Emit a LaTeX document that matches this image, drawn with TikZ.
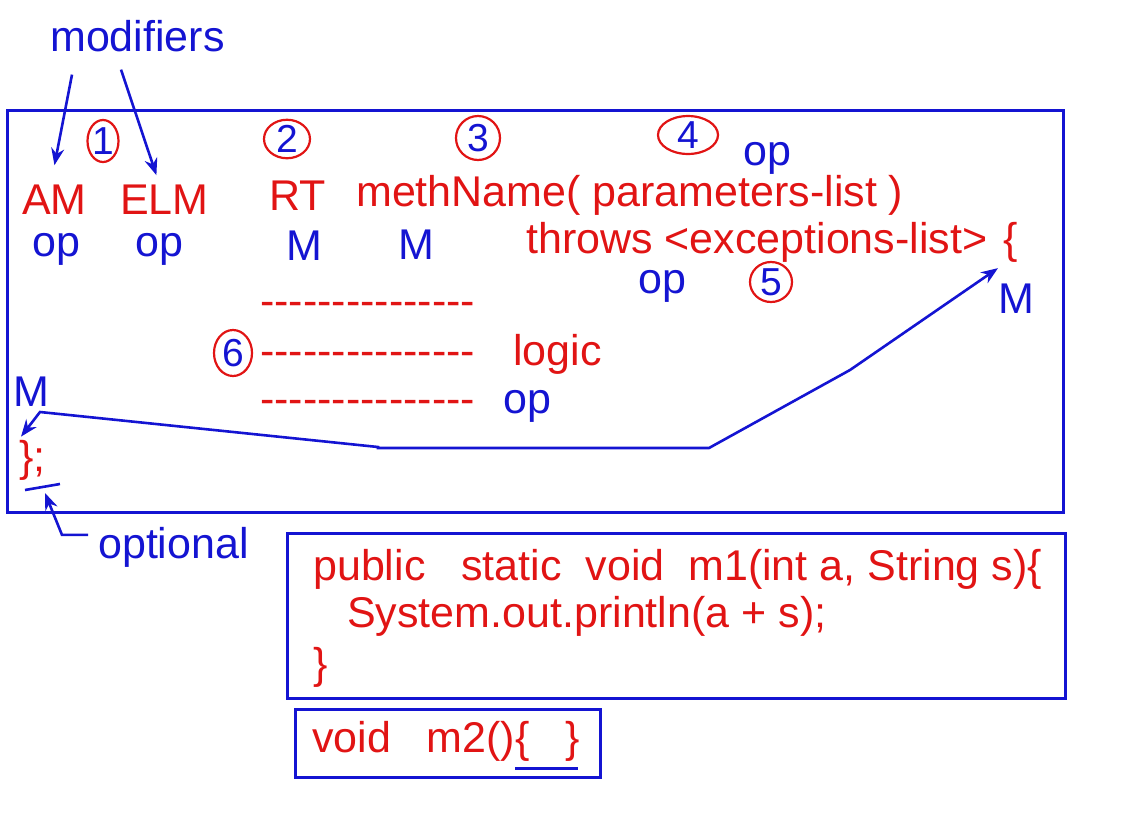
\documentclass[tikz,border=0pt]{standalone}
\usepackage{fontspec}
\setmainfont{Liberation Sans}
\usetikzlibrary{arrows.meta,shapes.geometric,positioning}
\definecolor{myred}{RGB}{225,20,20}
\definecolor{myblue}{RGB}{20,20,210}

\begin{document}
\begin{tikzpicture}[x=1pt,y=-1pt,
  every node/.style={inner sep=0pt,font=\fontsize{43}{50}\selectfont},
  rt/.style={text=myred,anchor=base west},
  bt/.style={text=myblue,anchor=base west},
  num/.style={ellipse,draw=myred,line width=2.2pt,text=myblue,font=\fontsize{39}{40}\selectfont},
  box/.style={draw=myblue,line width=3pt},
  arr/.style={myblue,line width=2.6pt,-{Stealth[length=17pt,width=13pt]}}]
\useasboundingbox (0,0) rectangle (1125,812);
%frames
\draw[box] (7,110) rectangle (1063,512);
\draw[box] (287,533) rectangle (1065,698);
\draw[box] (295,709) rectangle (600,777);
%header
\node[bt] (mods) at (50,51) {modifiers};
\node[rt] (am) at (22,214) {AM};
\node[rt] (elm) at (120,214) {ELM};
\node[rt] (rt) at (269,210) {RT};
\node[rt] (meth) at (356,206) {methName( parameters-list )};
\node[rt] (throws) at (526,253) {throws <exceptions-list>};
\node[rt] (brace) at (1003,253) {\{};
\node[bt] (opam) at (32,256) {op};
\node[bt] (opelm) at (135,256) {op};
\node[bt] (mrt) at (286,260) {M};
\node[bt] (mmeth) at (398,259) {M};
\node[bt] (oppar) at (743,165) {op};
\node[bt] (opthr) at (638,293) {op};
\node[bt] (mopen) at (998,313) {M};
%numbers
\node[num,minimum width=31pt,minimum height=42pt] (c1) at (103,141) {1};
\node[num,minimum width=46pt,minimum height=38pt] (c2) at (287,139) {2};
\node[num,minimum width=44pt,minimum height=44pt] (c3) at (478,138) {3};
\node[num,minimum width=60pt,minimum height=36pt] (c4) at (688,135) {4};
\node[num,minimum width=42pt,minimum height=40pt] (c5) at (771,282) {5};
\node[num,minimum width=38pt,minimum height=46pt] (c6) at (233,353) {6};
%body
\node[rt] (row1) at (260,315) {-{}-{}-{}-{}-{}-{}-{}-{}-{}-{}-{}-{}-{}-{}-};
\node[rt] (row2) at (260,365) {-{}-{}-{}-{}-{}-{}-{}-{}-{}-{}-{}-{}-{}-{}-};
\node[rt] (row3) at (260,413) {-{}-{}-{}-{}-{}-{}-{}-{}-{}-{}-{}-{}-{}-{}-};
\node[rt] (logic) at (513,365) {logic};
\node[bt] (oplog) at (503,413) {op};
\node[bt] (mclose) at (13,406) {M};
\node[rt] (close) at (19,471) {\};};
\node[bt] (optional) at (98,558) {optional};
\coordinate (optmark) at (45,493);
%arrows
\draw[arr] ([shift={(22pt,-23pt)}]mods.south west) -- ([yshift=19pt]am.north);
\draw[arr] ([shift={(71pt,-18pt)}]mods.south west) -- ([shift={(-8pt,9pt)}]elm.north);
\draw[arr,{Stealth[length=17pt,width=13pt]}-{Stealth[length=17pt,width=13pt]}]
  ([shift={(2pt,3pt)}]close.north west)
  -- (40,412) -- (378,447) -- (378,448) -- (709,448) -- (850,370)
  -- ([shift={(-5pt,-6pt)}]brace.south west);
\draw[myblue,line width=2.6pt] (25,490) -- (60,484);
\draw[arr] ([shift={(-10pt,12pt)}]optional.west) -- ++(-26,0) -- (optmark);
%code
\node[rt] (line1) at (313,580) {public\ \ \ static\ \ void\ \ m1(int a, String s)\{};
\node[rt] (line2) at (347,627) {System.out.println(a + s);};
\node[rt] (line3) at (313,678) {\}};
\node[rt] (m2) at (312,752) {void\ \ \ m2()\{\ \ \ \}};
\draw[myblue,line width=3pt] (515,768) -- (578,768);
\end{tikzpicture}
\end{document}
